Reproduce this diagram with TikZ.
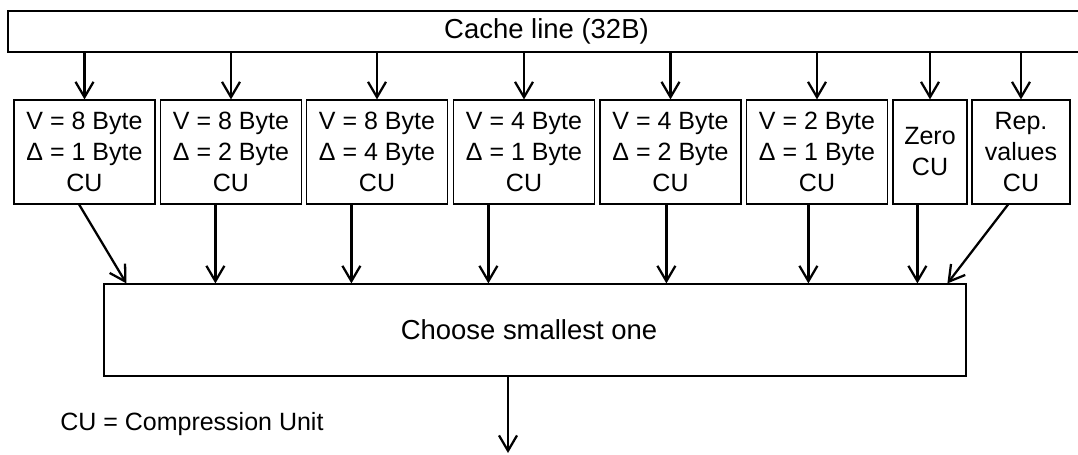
\documentclass[tikz,border=0pt]{standalone}
\usepackage{fontspec}
\setmainfont{Liberation Sans}
\usetikzlibrary{arrows.meta}
\tikzset{
  unit/.style={draw,line width=0.9pt,minimum height=78pt,inner sep=0pt,align=center,
    font=\fontsize{18.75}{23.25}\selectfont},
  arr/.style={-{Straight Barb[length=11.5pt,width=13.5pt]},line width=1.7pt},
}
\begin{document}
\begin{tikzpicture}[x=0.75pt,y=-0.75pt]
\clip (0,0) rectangle (1078,454);
\node[draw,line width=1.6pt,minimum width=807.75pt,minimum height=30.75pt,
  font=\fontsize{20.6}{24}\selectfont] (line) at (546.5,31.5) {Cache line (32B)};
\foreach \n/\x/\w/\t in {b1/84.5/105.75/{V = 8 Byte\\Δ = 1 Byte\\CU},
    b2/231/105.75/{V = 8 Byte\\Δ = 2 Byte\\CU},
    b3/377/105.75/{V = 8 Byte\\Δ = 4 Byte\\CU},
    b4/524/105.75/{V = 4 Byte\\Δ = 1 Byte\\CU},
    b5/670.5/105.75/{V = 4 Byte\\Δ = 2 Byte\\CU},
    b6/817/105.75/{V = 2 Byte\\Δ = 1 Byte\\CU},
    b7/930/55.5/{Zero\\CU},
    b8/1021/73.5/{Rep.\\values\\CU}}{
  \node[unit,minimum width=\w pt] (\n) at (\x,152) {\t};
  \draw[arr] (line.south -| \n.north) -- (\n.north);
}
\node[draw,line width=0.9pt,minimum width=646.5pt,minimum height=69pt,
  font=\fontsize{20.6}{24}\selectfont] (choose) at (535,330) {Choose smallest one\hspace*{9pt}};
% inputs of the chooser
\foreach \n/\d in {b1/23,b2/112,b3/248,b4/385,b5/563,b6/705,b7/814,b8/844}
  \path (choose.north west) ++(\d,0) coordinate (i\n);
\draw[arr] ([xshift=-4pt]b1.south) -- (ib1);
\foreach \n in {b2,b3,b4,b5,b6,b7}
  \draw[arr] (\n.south -| i\n) -- (i\n);
\draw[arr] ([xshift=-9.75pt]b8.south) -- (ib8);
\coordinate (res) at (508,453);
\draw[arr] (choose.south -| res) -- (res);
\node[anchor=west,inner sep=0pt,font=\fontsize{18.75}{23.25}\selectfont] (key) at (60,424)
  {CU = Compression Unit};
\end{tikzpicture}
\end{document}
